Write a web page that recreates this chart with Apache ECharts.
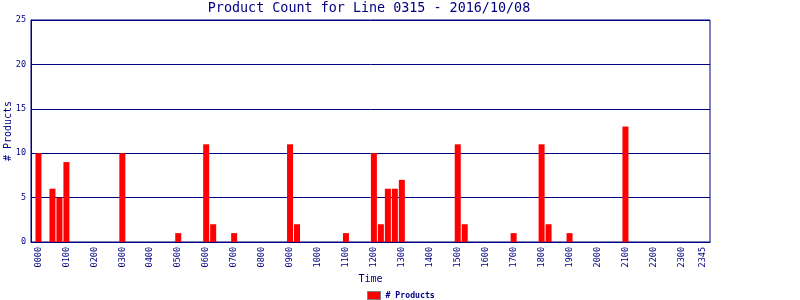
<!DOCTYPE html>
<html>
<head>
<meta charset="utf-8">
<script src="https://cdn.jsdelivr.net/npm/echarts@6/dist/echarts.min.js"></script>
<style>html,body{margin:0;padding:0;background:#fff}#c{width:800px;height:300px}</style>
</head>
<body>
<div id="c"></div>
<script>
// 15-minute slots 0000..2345 (96 slots), product count per slot
const productCounts = [
  10, 0, 6, 5,   9, 0, 0, 0,   0, 0, 0, 0,   10, 0, 0, 0,   // 00-03
  0, 0, 0, 0,    1, 0, 0, 0,   11, 2, 0, 0,  1, 0, 0, 0,    // 04-07
  0, 0, 0, 0,    11, 2, 0, 0,  0, 0, 0, 0,   1, 0, 0, 0,    // 08-11
  10, 2, 6, 6,   7, 0, 0, 0,   0, 0, 0, 0,   11, 2, 0, 0,   // 12-15
  0, 0, 0, 0,    1, 0, 0, 0,   11, 2, 0, 0,  1, 0, 0, 0,    // 16-19
  0, 0, 0, 0,    13, 0, 0, 0,  0, 0, 0, 0,   0, 0, 0, 0     // 20-23
];
const xTickLabels = ["0000","0100","0200","0300","0400","0500","0600","0700","0800","0900","1000","1100",
  "1200","1300","1400","1500","1600","1700","1800","1900","2000","2100","2200","2300","2345"];
const yTicks = [0, 5, 10, 15, 20, 25];
const seriesName = "# Products";
const titleText = "Product Count for Line 0315 - 2016/10/08";

const slotOf = s => parseInt(s.slice(0,2),10)*4 + parseInt(s.slice(2),10)/15;
const tickSlots = xTickLabels.map(slotOf);
const labelMap = {};
xTickLabels.forEach((l,i)=>{ labelMap[tickSlots[i]] = l; });
const data = productCounts.map((v,i)=>[i,v]);

const NAVY = '#000080';
const FONT = 'DejaVu Sans Mono';
const chart = echarts.init(document.getElementById('c'));
chart.setOption({
  animation: false,
  backgroundColor: '#fff',
  title: {
    text: titleText, left: 369, top: 2.5, textAlign: 'center', padding: 0,
    textStyle: {fontFamily: FONT, fontSize: 13.4, fontWeight: 'normal', color: NAVY}
  },
  legend: {
    data: [seriesName], left: 367, top: 291, padding: 0, itemWidth: 13, itemHeight: 8, itemGap: 4,
    icon: 'rect',
    itemStyle: {borderColor: '#808080', borderWidth: 1},
    textStyle: {fontFamily: FONT, fontSize: 8.2, color: NAVY, fontWeight: 'bold'}
  },
  grid: {left: 31, right: 90, top: 20, bottom: 58, containLabel: false, outerBoundsMode: 'none',
    show: true, borderColor: NAVY, borderWidth: 1, backgroundColor: 'transparent'},
  xAxis: {
    type: 'value', min: -1.07, max: 96.1,
    name: 'Time', nameLocation: 'middle', nameGap: 32, nameMoveOverlap: false,
    nameTextStyle: {fontFamily: FONT, fontSize: 10, color: NAVY},
    axisLine: {show: true, onZero: false, lineStyle: {color: NAVY}},
    axisTick: {show: false},
    splitLine: {show: false},
    axisLabel: {
      customValues: tickSlots, rotate: 90, margin: 5,
      fontFamily: FONT, fontSize: 8.5, color: NAVY,
      formatter: v => labelMap[v] || ''
    }
  },
  yAxis: {
    type: 'value', min: 0, max: 25, interval: 5,
    name: seriesName, nameLocation: 'middle', nameGap: 18, nameMoveOverlap: false,
    nameTextStyle: {fontFamily: FONT, fontSize: 10, color: NAVY},
    axisLine: {show: true, onZero: false, lineStyle: {color: NAVY}},
    axisTick: {show: false},
    splitLine: {show: true, lineStyle: {color: NAVY, width: 1}},
    axisLabel: {
      customValues: yTicks, margin: 5, fontFamily: FONT, fontSize: 8.5, color: NAVY
    }
  },
  series: [{
    name: seriesName, type: 'bar', data: data, barWidth: 6,
    itemStyle: {color: '#ff0000'}
  }]
});
</script>
</body>
</html>
